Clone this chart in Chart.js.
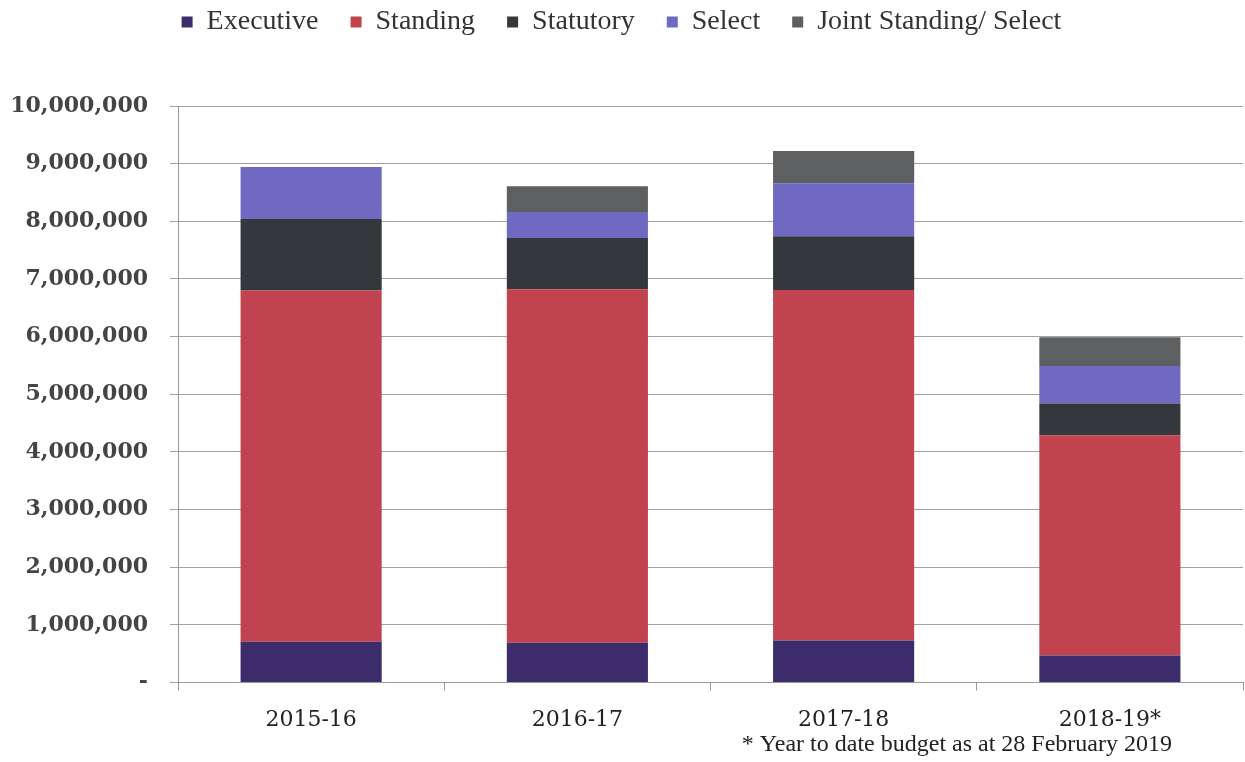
<!DOCTYPE html>
<html lang="en">
<head>
  <meta charset="UTF-8">
  <title>Committee expenditure</title>
  <script src="https://cdn.jsdelivr.net/npm/chart.js"></script>
  <style>
    html, body { margin: 0; padding: 0; background: #fff; }
    #wrap { width: 1245px; height: 762px; }
  </style>
</head>
<body>
  <div id="wrap"><canvas id="chart"></canvas></div>
  <script>
    const years = ["2015-16", "2016-17", "2017-18", "2018-19*"];
    const executive = [710000, 690000, 730000, 470000];
    const standing = [6090000, 6130000, 6080000, 3820000];
    const statutory = [1240000, 890000, 930000, 550000];
    const select = [900000, 450000, 920000, 650000];
    const jointSelect = [0, 450000, 560000, 500000];
    const footnote = "* Year to date budget as at 28 February 2019";

    const serif = "'DejaVu Serif', Georgia, serif";

    // footnote under the last category label
    const footnotePlugin = {
      id: "footnote",
      afterDraw(chart) {
        const ctx = chart.ctx;
        ctx.save();
        ctx.font = "24px 'Liberation Serif', serif";
        ctx.fillStyle = "#222";
        ctx.textAlign = "right";
        ctx.textBaseline = "middle";
        ctx.fillText(footnote, 1172, 745);
        ctx.restore();
      }
    };

    // extra space between legend and plot
    const legendGap = {
      id: "legendGap",
      beforeInit(chart) {
        const fit = chart.legend.fit;
        chart.legend.fit = function () {
          fit.bind(chart.legend)();
          this.height += 60;
        };
      }
    };

    const mk = (label, data, color) => ({
      label, data, backgroundColor: color, borderWidth: 0,
      categoryPercentage: 1, barPercentage: 0.53
    });

    new Chart(document.getElementById("chart"), {
      type: "bar",
      data: {
        labels: years,
        datasets: [
          mk("Executive", executive, "#3c2c6c"),
          mk("Standing", standing, "#c1434f"),
          mk("Statutory", statutory, "#34373b"),
          mk("Select", select, "#6f69c2"),
          mk("Joint Standing/ Select", jointSelect, "#5e5f61")
        ]
      },
      options: {
        responsive: true,
        maintainAspectRatio: false,
        animation: false,
        layout: { padding: { top: -24, right: 2, bottom: 13, left: 0 } },
        plugins: {
          tooltip: { enabled: false },
          legend: {
            position: "top",
            labels: {
              font: { family: "'Liberation Serif', serif", size: 28 },
              color: "#333",
              boxWidth: 11,
              boxHeight: 11,
              padding: 32
            }
          }
        },
        scales: {
          x: {
            stacked: true,
            grid: { display: true, drawOnChartArea: false, offset: true, tickLength: 8, color: "#999" },
            border: { color: "#999" },
            ticks: {
              font: { family: serif, size: 22 },
              color: "#222",
              padding: 16
            }
          },
          y: {
            stacked: true,
            min: 0,
            max: 10000000,
            afterFit(s) { s.width = 178; },
            grid: { color: "#a0a0a0", tickLength: 8 },
            border: { color: "#999" },
            ticks: {
              stepSize: 1000000,
              font: { family: serif, size: 22, weight: "bold" },
              color: "#444",
              padding: 22,
              callback: v => v === 0 ? "-" : v.toLocaleString("en-US")
            }
          }
        }
      },
      plugins: [footnotePlugin, legendGap]
    });
  </script>
</body>
</html>
